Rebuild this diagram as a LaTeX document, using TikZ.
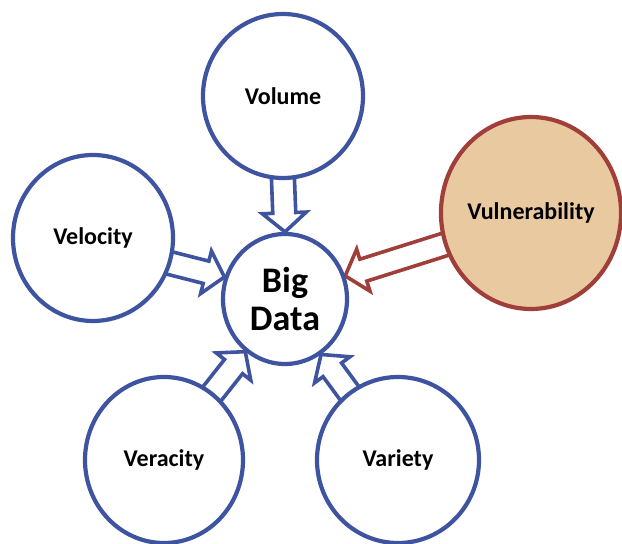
\documentclass[tikz,border=0pt]{standalone}
\usepackage{fontspec}
\setmainfont{Carlito}
\usetikzlibrary{shapes.geometric}
\usetikzlibrary{calc,backgrounds}

\definecolor{vblue}{RGB}{63,84,160}
\definecolor{vred}{RGB}{160,62,58}
\definecolor{vtan}{RGB}{233,201,160}

\tikzset{
  bubble/.style={ellipse, draw=vblue, line width=4.2pt, fill=white, inner sep=0pt,
    font=\fontsize{24}{28}\selectfont\bfseries},
  fatarrow/.style={line width=3.6pt, line join=miter,
    to path={let \p1=(\tikztostart), \p2=(\tikztotarget),
      \n1={atan2(\y2-\y1,\x2-\x1)}, \n2={veclen(\x2-\x1,\y2-\y1)} in
      ($(\p1)+({\n1+180}:6)+({\n1+90}:11.5)$) -- ++(\n1:{\n2+6-19}) -- ++({\n1+90}:10.5)
      -- (\p2) -- ($(\p2)+({\n1+180}:19)+({\n1-90}:22)$) -- ++({\n1+90}:10.5)
      -- ($(\p1)+({\n1+180}:6)+({\n1-90}:11.5)$)}}
}

\begin{document}
\begin{tikzpicture}[x=1pt,y=1pt]
	\useasboundingbox (0,0) rectangle (622,544);

	\node[bubble, minimum width=124, minimum height=130, font=\fontsize{36}{38}\selectfont\bfseries, align=center] (big) at (285,245) {Big\\Data};
	\node[bubble, minimum width=160, minimum height=164] (vol) at (283,448) {Volume};
	\node[bubble, minimum width=160, minimum height=166] (vel) at (93,306) {Velocity};
	\node[bubble, minimum width=176, minimum height=192, draw=vred, fill=vtan] (vul) at (531,331) {Vulnerability};
	\node[bubble, minimum width=158, minimum height=166] (ver) at (164,84) {Veracity};
	\node[bubble, minimum width=162, minimum height=166] (var) at (398,84) {Variety};

	\begin{scope}[on background layer]
		\draw[vblue, fatarrow] (vol.south) to (big.north);
		\draw[vblue, fatarrow] (vel.-18) to (big.160);
		\draw[vred, fatarrow] (vul.200) to (big.21);
		\draw[vblue, fatarrow] (ver.54) to (big.233);
		\draw[vblue, fatarrow] (var.126) to (big.303);
	\end{scope}

\end{tikzpicture}
\end{document}
